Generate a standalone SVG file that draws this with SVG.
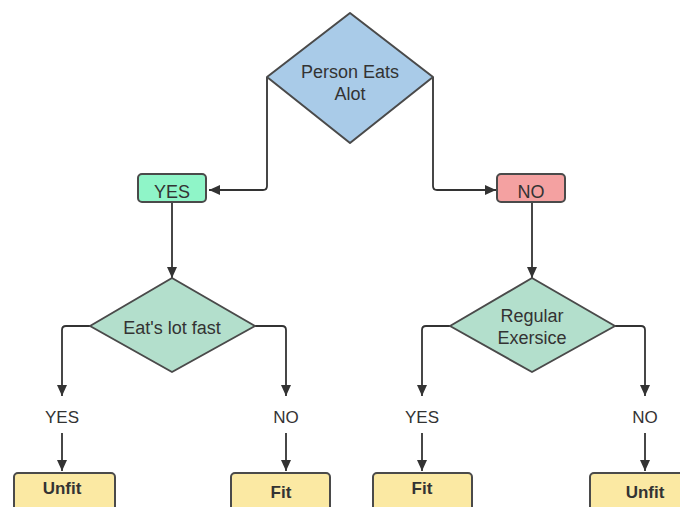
<svg xmlns="http://www.w3.org/2000/svg" width="680" height="507" viewBox="0 0 680 507">
  <style>
    .shape { stroke: #4a4a4a; stroke-width: 2; stroke-linejoin: round; }
    .decision { fill: #b3dfcc; }
    .result { fill: #fbe9a3; }
    .txt { font-family: "Liberation Sans", Arial, sans-serif; font-size: 18px; fill: #333333; text-anchor: middle; }
    .bold { font-weight: bold; font-size: 17px; }
    .lbl { font-size: 17px; }
    .conn { fill: none; stroke: #333333; stroke-width: 1.8; marker-end: url(#arrow); }
  </style>
  <defs>
    <marker id="arrow" markerUnits="userSpaceOnUse" markerWidth="12" markerHeight="10" refX="11" refY="5" orient="auto">
      <path d="M0,0 L11,5 L0,10 Z" fill="#333333"/>
    </marker>
  </defs>
  <rect width="680" height="507" fill="#ffffff"/>

  <!-- connectors -->
  <g id="connectors">
    <path class="conn" d="M267,77 V186 Q267,190 263,190 H209"/>
    <path class="conn" d="M433,77 V186 Q433,190 437,190 H496"/>
    <path class="conn" d="M172,202 V278"/>
    <path class="conn" d="M532,202 V278"/>
    <path class="conn" d="M90,326 H66 Q62,326 62,330 V396"/>
    <path class="conn" d="M62,433 V471"/>
    <path class="conn" d="M255,326 H282 Q286,326 286,330 V396"/>
    <path class="conn" d="M286,433 V471"/>
    <path class="conn" d="M450,326 H426 Q422,326 422,330 V396"/>
    <path class="conn" d="M422,433 V471"/>
    <path class="conn" d="M615,326 H641 Q645,326 645,330 V396"/>
    <path class="conn" d="M645,433 V471"/>
  </g>

  <g id="person-eats-alot">
    <path class="shape" fill="#a9cbe8" d="M350,13 L433,77 L350,143 L267,77 Z"/>
    <text class="txt" x="350" y="78">Person Eats</text>
    <text class="txt" x="350" y="100">Alot</text>
  </g>

  <g id="yes-top">
    <rect class="shape" fill="#8ff5c8" x="138" y="174" width="68" height="28" rx="4"/>
    <text class="txt" x="172" y="198">YES</text>
  </g>

  <g id="no-top">
    <rect class="shape" fill="#f4a1a1" x="497" y="174" width="68" height="28" rx="4"/>
    <text class="txt" x="531" y="198">NO</text>
  </g>

  <g id="eats-lot-fast">
    <path class="shape decision" d="M172,278 L255,326 L172,372 L90,326 Z"/>
    <text class="txt" x="172" y="334">Eat's lot fast</text>
  </g>

  <g id="regular-exercise">
    <path class="shape decision" d="M532,278 L615,326 L532,372 L450,326 Z"/>
    <text class="txt" x="532" y="322">Regular</text>
    <text class="txt" x="532" y="344">Exersice</text>
  </g>

  <g id="label-yes-left">
    <text class="txt lbl" x="62" y="423">YES</text>
  </g>
  <g id="label-no-left">
    <text class="txt lbl" x="286" y="423">NO</text>
  </g>
  <g id="label-yes-right">
    <text class="txt lbl" x="422" y="423">YES</text>
  </g>
  <g id="label-no-right">
    <text class="txt lbl" x="645" y="423">NO</text>
  </g>

  <g id="unfit-left">
    <rect class="shape result" x="14" y="473" width="101" height="44" rx="4"/>
    <text class="txt bold" x="62" y="494">Unfit</text>
  </g>
  <g id="fit-left">
    <rect class="shape result" x="231" y="473" width="99" height="44" rx="4"/>
    <text class="txt bold" x="281" y="498">Fit</text>
  </g>
  <g id="fit-right">
    <rect class="shape result" x="373" y="473" width="99" height="44" rx="4"/>
    <text class="txt bold" x="422" y="494">Fit</text>
  </g>
  <g id="unfit-right">
    <rect class="shape result" x="590" y="473" width="110" height="44" rx="4"/>
    <text class="txt bold" x="645" y="498">Unfit</text>
  </g>
</svg>
